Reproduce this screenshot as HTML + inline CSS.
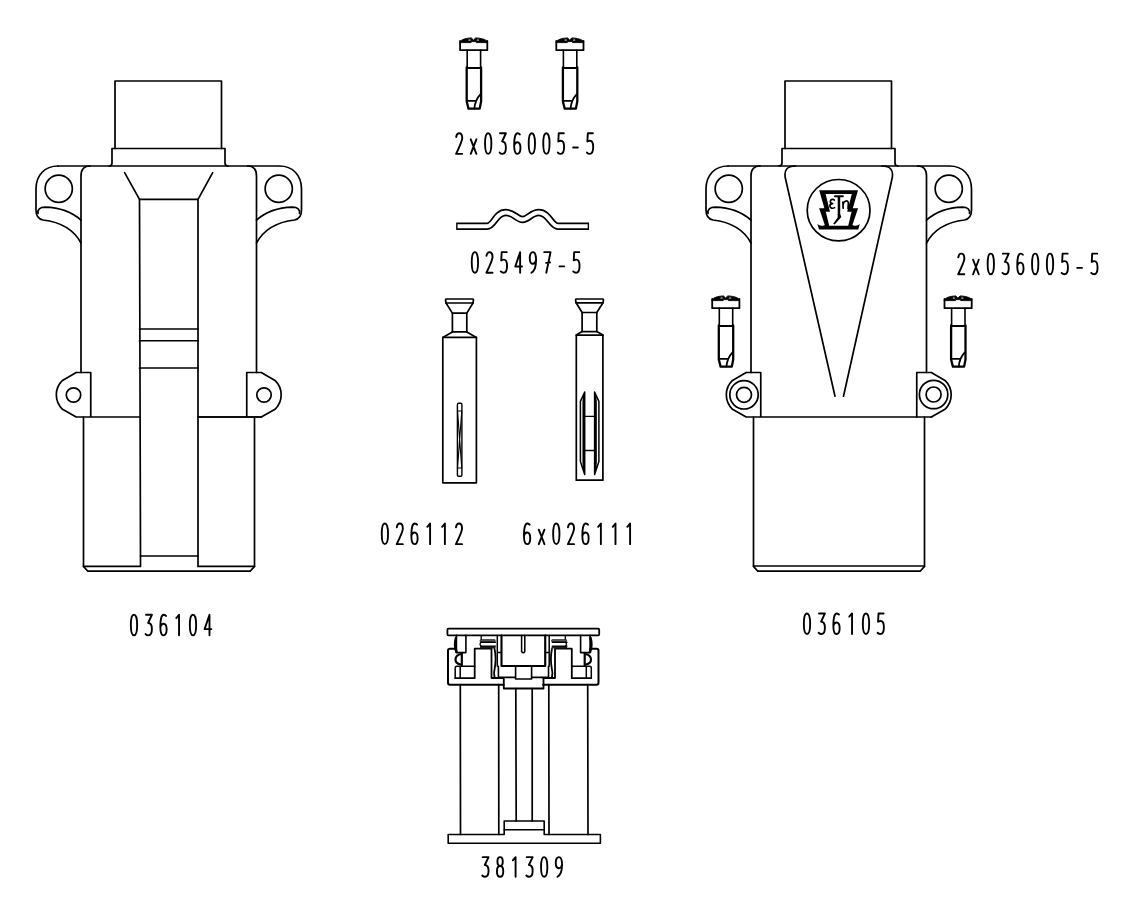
<!DOCTYPE html>
<html><head><meta charset="utf-8"><title>Connector parts</title>
<style>
html,body{margin:0;padding:0;background:#fff;width:1134px;height:916px;overflow:hidden;font-family:"Liberation Sans",sans-serif;}
svg{display:block;}

</style></head><body>
<svg width="1134" height="916" viewBox="0 0 1134 916">
<g fill="none" stroke="#000" stroke-width="1.7" stroke-linejoin="round" stroke-linecap="round"><g><path d="M115,148.5 L115,81 L221.5,81 L221.5,148.5"/><path d="M109,166 Q112,166 112,163 L112,148.5 L225,148.5 L225,163 Q225,166 228,166"/><path d="M58,166 L278.5,166"/><path d="M58,166 C45,166 36,175 36,189 L36,210 C36,215 38,219 43,220 C60,222 74,230 81,243"/><path d="M38,213.5 C37.2,209.5 40,207.2 45,207.2 C60,207.6 73,213 81,220.2"/><circle cx="58.75" cy="188.75" r="13.6"/><path d="M279.5,166 C292.5,166 301.5,175 301.5,189 L301.5,210 C301.5,215 299.5,219 294.5,220 C277.5,222 263.5,230 256.5,243"/><path d="M299.5,213.5 C300.3,209.5 297.5,207.2 292.5,207.2 C277.5,207.6 264.5,213 256.5,220.2"/><circle cx="278.75" cy="188.75" r="13.6"/><path d="M81,372.5 L81,176 Q81,166 90,166"/><path d="M256.5,372.5 L256.5,176 Q256.5,166 247.5,166"/><path d="M76.2,372.5 L90.75,372.5 L90.75,417 M76.2,372.5 L62.5,380.4 A20,20 0 0 0 62.5,409.3 L76.2,417 L139.5,417"/><circle cx="73.5" cy="395" r="7.2"/><path d="M261.3,372.5 L246.75,372.5 L246.75,417 M261.3,372.5 L275.0,380.4 A20,20 0 0 1 275.0,409.3 L261.3,417 L198.0,417"/><circle cx="264.0" cy="395" r="7.2"/><path d="M83.5,417 L83.5,566.4 L87.8,571.2 L250.2,571.2 L254.5,566.4 L254.5,417"/><path d="M83.5,566.4 L140.5,566.4 L140.5,556 L198,556 L198,566.4 L254.5,566.4"/><path d="M124.6,172.7 L139.5,199.3 L198,199.3 L212.7,172.7"/><path d="M139.5,199 L140.5,556 M198,199 L198,556"/><path d="M139.5,329 L198,329 M139.5,340.75 L198,340.75 M139.5,368 L198,368"/><path d="M198,417 L261.5,417"/></g><g><path d="M785,148.5 L785,81 L891.5,81 L891.5,148.5"/><path d="M779,166 Q782,166 782,163 L782,148.5 L895,148.5 L895,163 Q895,166 898,166"/><path d="M728,166 L948.5,166"/><path d="M728,166 C715,166 706,175 706,189 L706,210 C706,215 708,219 713,220 C730,222 744,230 751,243"/><path d="M708,213.5 C707.2,209.5 710,207.2 715,207.2 C730,207.6 743,213 751,220.2"/><circle cx="728.75" cy="188.75" r="13.6"/><path d="M949.5,166 C962.5,166 971.5,175 971.5,189 L971.5,210 C971.5,215 969.5,219 964.5,220 C947.5,222 933.5,230 926.5,243"/><path d="M969.5,213.5 C970.3,209.5 967.5,207.2 962.5,207.2 C947.5,207.6 934.5,213 926.5,220.2"/><circle cx="948.75" cy="188.75" r="13.6"/><path d="M751,372.5 L751,176 Q751,166 760,166"/><path d="M926.5,372.5 L926.5,176 Q926.5,166 917.5,166"/><path d="M746.2,372.5 L760.75,372.5 L760.75,417 M746.2,372.5 L732.5,380.4 A20,20 0 0 0 732.5,409.3 L746.2,417 L931.5,417"/><circle cx="744.0" cy="394.8" r="7.5"/><circle cx="744.0" cy="394.8" r="14.2"/><path d="M931.3,372.5 L916.75,372.5 L916.75,417 M931.3,372.5 L945.0,380.4 A20,20 0 0 1 945.0,409.3 L931.3,417"/><circle cx="933.6" cy="394.5" r="7.5"/><circle cx="933.6" cy="394.5" r="14.2"/><path d="M753.5,417 L753.5,566.4 L757.8,571.2 L920.2,571.2 L924.5,566.4 L924.5,417"/><path d="M753.5,566 L924.5,566"/><path d="M795.6,166 Q782.6,166 785.5,178.7 L835,396.25 M881.9,166 Q894.9,166 892.0,178.7 L843.5,396.25"/></g><g><ellipse cx="838.6" cy="210.2" rx="31.4" ry="30.7" stroke-width="1.7"/><path fill="#000" stroke="none" fill-rule="evenodd" d="M819.20,190.20 L858.00,190.20 852.80,208.30 858.10,208.30 852.40,224.90 Q856.80,227.00 859.80,224.00 L858.20,229.50 819.00,229.50 817.40,224.00 Q820.40,227.00 824.80,224.90 L819.10,208.30 824.40,208.30 Z M825.60,193.90 851.80,193.90 847.20,211.80 851.60,211.80 848.20,225.80 829.20,225.80 825.80,211.80 830.00,211.80 Z"/><path stroke-width="1.7" stroke-linecap="round" d="M834.30,200.00 C833.40,199.00 830.30,199.00 830.30,201.60 C830.30,203.00 831.40,203.60 832.70,203.60 C831.00,203.60 829.90,204.80 829.90,206.00 C829.90,208.20 832.60,208.90 834.60,207.60"/><path stroke-width="2.0" d="M835.00,196.30 L842.90,196.30"/><path stroke-width="2.5" stroke-linecap="butt" d="M838.95,196.30 L838.95,214.70"/><path fill="#000" stroke="none" d="M837.70,214.00 840.20,214.00 841.30,217.00 834.70,224.60 833.20,223.80 837.70,217.40 Z"/><path stroke-width="1.7" stroke-linecap="round" d="M842.90,202.20 L843.10,208.20 M843.10,204.40 C843.80,200.60 848.40,199.40 848.40,203.60 L848.00,208.40"/></g><g><path d="M460.1,41 L460.1,50.2 L487.3,50.2 L487.3,41" stroke-width="1.8"/><path d="M459.90000000000003,41.6 C461.6,39.4 466.1,38.1 471.3,37.9 L473.5,40 L475.70000000000005,37.9 C481.1,38.1 485.8,39.4 487.5,41.6 L487.3,42.6 L476.3,42.6 L476.3,41.6 L471.1,41.6 L471.1,42.6 L460.1,42.6 Z" fill="#000" stroke-width="0.9"/><ellipse cx="469.5" cy="40.0" rx="1.3" ry="0.6" fill="#fff" stroke="none"/><ellipse cx="477.90000000000003" cy="40.0" rx="1.3" ry="0.6" fill="#fff" stroke="none"/><path d="M467.20000000000005,50.2 L467.20000000000005,68 M480.6,50.2 L480.6,68" stroke-width="1.6"/><path d="M466.70000000000005,68 L481.1,68" stroke-width="1.8"/><path d="M466.70000000000005,67.5 L466.70000000000005,101.5 L468.5,108.6 L479.70000000000005,108.6 L481.1,101.5 L481.1,67.5" stroke-width="2.3"/><path d="M467.8,100.8 L475.1,100.8" stroke-width="1.8"/><path d="M480.40000000000003,94.4 Q475.1,100 474.3,108.6" stroke-width="1.8"/></g><g><path d="M556.3,41 L556.3,50.2 L583.5,50.2 L583.5,41" stroke-width="1.8"/><path d="M556.0999999999999,41.6 C557.8,39.4 562.3,38.1 567.5,37.9 L569.6999999999999,40 L571.9,37.9 C577.3,38.1 582.0,39.4 583.7,41.6 L583.5,42.6 L572.5,42.6 L572.5,41.6 L567.3,41.6 L567.3,42.6 L556.3,42.6 Z" fill="#000" stroke-width="0.9"/><ellipse cx="565.6999999999999" cy="40.0" rx="1.3" ry="0.6" fill="#fff" stroke="none"/><ellipse cx="574.0999999999999" cy="40.0" rx="1.3" ry="0.6" fill="#fff" stroke="none"/><path d="M563.4,50.2 L563.4,68 M576.8,50.2 L576.8,68" stroke-width="1.6"/><path d="M562.9,68 L577.3,68" stroke-width="1.8"/><path d="M562.9,67.5 L562.9,101.5 L564.6999999999999,108.6 L575.9,108.6 L577.3,101.5 L577.3,67.5" stroke-width="2.3"/><path d="M564.0,100.8 L571.3,100.8" stroke-width="1.8"/><path d="M576.5999999999999,94.4 Q571.3,100 570.5,108.6" stroke-width="1.8"/></g><g><path d="M712.2,299.0 L712.2,308.2 L739.4000000000001,308.2 L739.4000000000001,299.0" stroke-width="1.8"/><path d="M712.0,299.6 C713.7,297.4 718.2,296.1 723.4000000000001,295.9 L725.6,298.0 L727.8000000000001,295.9 C733.2,296.1 737.9000000000001,297.4 739.6000000000001,299.6 L739.4000000000001,300.6 L728.4000000000001,300.6 L728.4000000000001,299.6 L723.2,299.6 L723.2,300.6 L712.2,300.6 Z" fill="#000" stroke-width="0.9"/><ellipse cx="721.6" cy="298.0" rx="1.3" ry="0.6" fill="#fff" stroke="none"/><ellipse cx="730.0" cy="298.0" rx="1.3" ry="0.6" fill="#fff" stroke="none"/><path d="M719.3000000000001,308.2 L719.3000000000001,326.0 M732.7,308.2 L732.7,326.0" stroke-width="1.6"/><path d="M718.8000000000001,326.0 L733.2,326.0" stroke-width="1.8"/><path d="M718.8000000000001,325.5 L718.8000000000001,359.5 L720.6,366.6 L731.8000000000001,366.6 L733.2,359.5 L733.2,325.5" stroke-width="2.3"/><path d="M719.9000000000001,358.8 L727.2,358.8" stroke-width="1.8"/><path d="M732.5,352.4 Q727.2,358.0 726.4000000000001,366.6" stroke-width="1.8"/></g><g><path d="M944.5,299.0 L944.5,308.2 L971.7,308.2 L971.7,299.0" stroke-width="1.8"/><path d="M944.3,299.6 C946.0,297.4 950.5,296.1 955.7,295.9 L957.9,298.0 L960.1,295.9 C965.5,296.1 970.2,297.4 971.9000000000001,299.6 L971.7,300.6 L960.7,300.6 L960.7,299.6 L955.5,299.6 L955.5,300.6 L944.5,300.6 Z" fill="#000" stroke-width="0.9"/><ellipse cx="953.9" cy="298.0" rx="1.3" ry="0.6" fill="#fff" stroke="none"/><ellipse cx="962.3" cy="298.0" rx="1.3" ry="0.6" fill="#fff" stroke="none"/><path d="M951.6,308.2 L951.6,326.0 M965.0,308.2 L965.0,326.0" stroke-width="1.6"/><path d="M951.1,326.0 L965.5,326.0" stroke-width="1.8"/><path d="M951.1,325.5 L951.1,359.5 L952.9,366.6 L964.1,366.6 L965.5,359.5 L965.5,325.5" stroke-width="2.3"/><path d="M952.2,358.8 L959.5,358.8" stroke-width="1.8"/><path d="M964.8,352.4 Q959.5,358.0 958.7,366.6" stroke-width="1.8"/></g><path d="M459.85,226.25 L487,226.25 C494,226.25 495.5,212.5 505.7,212.5 C514,212.5 517,219.5 522.6,219.5 C528.2,219.5 531.2,212.5 538.8,212.5 C549,212.5 551,226.25 558,226.25 L585.35,226.25" stroke-width="7.4" stroke-linecap="square" stroke-linejoin="round"/><path d="M457.55,226.25 L487,226.25 C494,226.25 495.5,212.5 505.7,212.5 C514,212.5 517,219.5 522.6,219.5 C528.2,219.5 531.2,212.5 538.8,212.5 C549,212.5 551,226.25 558,226.25 L587.65,226.25" stroke="#fff" stroke-width="4.0" stroke-linecap="butt"/><g><path d="M446.2,299 L472.7,299 Q473.6,299 473.4,300.4 L473.0,303 L466.8,313.1 L466.8,331.9 L476.4,337.4 L476.4,482.8 L442.8,482.8 L442.8,337.4 L452.4,331.9 L452.4,313.1 L446.0,303 L445.6,300.4 Q445.4,299 446.2,299 Z"/><path d="M446,303 L473,303 M452.4,313.1 L466.8,313.1 M452.4,331.9 L466.8,331.9 M442.8,337.4 L476.4,337.4"/><path d="M458.6,403.3 L460.8,403.3 Q461.9,403.3 461.9,404.6 L461.9,475 Q461.9,476.3 460.8,476.3 L458.6,476.3 Q457.4,476.3 457.4,475 L457.4,404.6 Q457.4,403.3 458.6,403.3 Z" stroke-width="1.4"/><path d="M457.6,412 L461.7,467 M461.7,412 L457.6,467 M457.4,411 L461.9,411 M457.4,468 L461.9,468" stroke-width="1.1"/></g><g><path d="M576.2,299 L602.7,299 Q603.6,299 603.4,300.4 L603.0,302.8 L596.8,312.5 L596.8,331.6 L602.9,335.1 L602.9,480.2 L576.3,480.2 L576.3,335.1 L582.1,331.6 L582.1,312.5 L576.1,302.8 L575.7,300.4 Q575.5,299 576.2,299 Z"/><path d="M576,302.8 L603,302.8 M582.1,312.5 L596.8,312.5 M582.1,331.6 L596.8,331.6 M576.3,335.1 L602.9,335.1"/><path d="M584.7,392.1 L580.4,401.4 L580.4,461.4 L584.7,474.5 Z M584.7,392.1 L583.2,401 L583.2,463 L584.7,474.5" stroke-width="1.5"/><path d="M594.6,392.1 L598.9,401.4 L598.9,461.4 L594.6,474.5 Z M594.6,392.1 L596.1,401 L596.1,463 L594.6,474.5" stroke-width="1.5"/><path d="M584.7,416.4 L594.6,416.4 M584.7,450.5 L594.6,450.5" stroke-width="1.4"/></g><g><rect x="447.4" y="628.6" width="151.8" height="6.8" rx="1.2" stroke-width="1.8"/><path d="M448,650.5 Q448,648.7 450,648.7 L456,648.7 M448,650.5 L448,682.7 Q448,684.7 450,684.7 L503.6,684.7 M543.2,684.7 L596.5,684.7 Q598.5,684.7 598.5,682.7 L598.5,650.5 Q598.5,648.7 596.5,648.7 L590.5,648.7" stroke-width="2"/><path d="M455.2,678.2 L474.7,678.2 L474.7,648.7 L491.5,648.7 L491.5,678 L503.6,678 M543.2,678 L555,678 L555,648.7 L571.8,648.7 L571.8,678.2 L591.3,678.2" stroke-width="1.8"/><path d="M456.4,635.4 L456.4,652.6 L465.9,652.6 L465.9,635.4" stroke-width="1.6"/><path d="M456,638 Q454,645 456.5,652" stroke-width="2.6"/><path d="M590.1,635.4 L590.1,652.6 L580.6,652.6 L580.6,635.4" stroke-width="1.6"/><path d="M590.5,638 Q592.5,645 590.0,652" stroke-width="2.6"/><path d="M461.5,654 Q455.5,655 455.5,659.5 Q455.5,663.5 460.5,664.5 M461.8,653 L461.8,665.5" stroke-width="2.2"/><path d="M585.0,654 Q591.0,655 591.0,659.5 Q591.0,663.5 586.0,664.5 M584.7,653 L584.7,665.5" stroke-width="2.2"/><path d="M455.2,678.2 L455.2,668 Q455.2,666.3 457,666.3 L474.7,666.3 M460.2,666.3 L460.2,678.2" stroke-width="1.5"/><path d="M591.3,678.2 L591.3,668 Q591.3,666.3 589.5,666.3 L571.8,666.3 M586.3,666.3 L586.3,678.2" stroke-width="1.5"/><rect x="479.7" y="639.2" width="15.900000000000045" height="3.2" rx="1.4" fill="#1a1a1a" stroke="none"/><rect x="480.0" y="646.0" width="15.600000000000046" height="2.4" rx="1.0" fill="#1a1a1a" stroke="none"/><rect x="479.79999999999995" y="640.4" width="15.400000000000045" height="0.9" fill="#777" stroke="none"/><path d="M480.9,642.4 L495.6,642.4 M480.9,646.0 L495.6,646.0" stroke-width="1.2"/><path d="M481.0,642.4 Q479.09999999999997,644.2 481.0,646.0 M481.2,636.2 L481.2,639.2" stroke-width="1.3"/><rect x="551.1999999999999" y="639.2" width="15.900000000000045" height="3.2" rx="1.4" fill="#1a1a1a" stroke="none"/><rect x="551.5" y="646.0" width="15.600000000000046" height="2.4" rx="1.0" fill="#1a1a1a" stroke="none"/><rect x="551.3" y="640.4" width="15.400000000000045" height="0.9" fill="#777" stroke="none"/><path d="M552.4,642.4 L567.1,642.4 M552.4,646.0 L567.1,646.0" stroke-width="1.2"/><path d="M565.5,642.4 Q567.4,644.2 565.5,646.0 M565.3000000000001,636.2 L565.3000000000001,639.2" stroke-width="1.3"/><path d="M497.3,635.4 L497.3,666.3 M501.5,635.4 L501.5,666.3 M497.3,652.6 L501.5,652.6" stroke-width="1.5"/><path d="M549.2,635.4 L549.2,666.3 M545.0,635.4 L545.0,666.3 M549.2,652.6 L545.0,652.6" stroke-width="1.5"/><path d="M494.6,649 Q496.6,659 494.6,669 Q493.6,672 494.6,677.5" stroke-width="1.8"/><path d="M551.9,649 Q549.9,659 551.9,669 Q552.9,672 551.9,677.5" stroke-width="1.8"/><path d="M501.5,666 L545.4,666 M501.5,635.4 L501.5,666 M545.4,635.4 L545.4,666" stroke-width="1.8"/><path d="M521.6,635.6 L521.6,651.5 Q523.2,654 524.8,651.5 L524.8,635.6" stroke-width="1.5"/><path d="M498.4,666.3 L498.4,677.4 L515.6,677.4 L515.6,666.3 M515.6,666.3 L515.6,679 L531.6,679 L531.6,666.3 M531.6,677.4 L548.5,677.4 L548.5,666.3" stroke-width="1.6"/><path d="M503.8,679 L503.8,688.5 L543.5,688.5 L543.5,679" stroke-width="1.8"/><path d="M460.3,684.7 L460.5,834.5 M498.7,684.7 L498.8,834.5 M548.8,684.7 L549,834.5 M587.7,684.7 L588,834.5 M515.8,688.5 L516.2,821 M532.2,688.5 L532.2,821"/><path d="M448.2,834.5 L504.2,834.5 L504.2,829.7 L544.2,829.7 L544.2,834.5 L600.4,834.5 L600.4,843.2 L448.2,843.2 Z" stroke-width="1.6"/><path d="M504.2,829.7 L504.2,821 L544.2,821 L544.2,829.7" stroke-width="1.6"/></g><g stroke-linecap="round"><path transform="translate(130.85,614.75) scale(0.7875,0.9364)" d="M4,0 C1.2,0 0,4.5 0,11 C0,17.5 1.2,22 4,22 C6.8,22 8,17.5 8,11 C8,4.5 6.8,0 4,0 Z" vector-effect="non-scaling-stroke" stroke-width="1.9"/><path transform="translate(145.60,614.75) scale(0.7875,0.9364)" d="M0.5,0 L8,0 L3.2,8.8 C6.3,8.8 8,11 8,15.2 C8,19.6 6.3,22 3.6,22 C2.2,22 1,21.5 0,20.6" vector-effect="non-scaling-stroke" stroke-width="1.9"/><path transform="translate(160.35,614.75) scale(0.7875,0.9364)" d="M7.2,1.2 C6.5,0.4 5.4,0 4.3,0 C1.3,0 0,5 0,12.5 C0,18.8 1.5,22 4,22 C6.6,22 8,19.2 8,15.6 C8,12 6.6,9.6 4,9.6 C2,9.6 0.6,11 0,13.2" vector-effect="non-scaling-stroke" stroke-width="1.9"/><path transform="translate(175.10,614.75) scale(0.7875,0.9364)" d="M1.5,3.5 L5,0 L5,22" vector-effect="non-scaling-stroke" stroke-width="1.9"/><path transform="translate(189.85,614.75) scale(0.7875,0.9364)" d="M4,0 C1.2,0 0,4.5 0,11 C0,17.5 1.2,22 4,22 C6.8,22 8,17.5 8,11 C8,4.5 6.8,0 4,0 Z" vector-effect="non-scaling-stroke" stroke-width="1.9"/><path transform="translate(204.60,614.75) scale(0.7875,0.9364)" d="M6.2,22 L6.2,0 L0,15.3 L8.6,15.3" vector-effect="non-scaling-stroke" stroke-width="1.9"/></g><g stroke-linecap="round"><path transform="translate(455.95,133.25) scale(0.7875,0.9364)" d="M0.3,4 C0.8,1.3 2.2,0 4,0 C6.4,0 8,2 8,5.2 C8,8.5 6,12 0.2,22 L8,22" vector-effect="non-scaling-stroke" stroke-width="1.9"/><path transform="translate(470.50,133.25) scale(0.7875,0.9364)" d="M0.3,6.5 L7.5,22 M7.5,6.5 L0.3,22" vector-effect="non-scaling-stroke" stroke-width="1.9"/><path transform="translate(485.05,133.25) scale(0.7875,0.9364)" d="M4,0 C1.2,0 0,4.5 0,11 C0,17.5 1.2,22 4,22 C6.8,22 8,17.5 8,11 C8,4.5 6.8,0 4,0 Z" vector-effect="non-scaling-stroke" stroke-width="1.9"/><path transform="translate(499.60,133.25) scale(0.7875,0.9364)" d="M0.5,0 L8,0 L3.2,8.8 C6.3,8.8 8,11 8,15.2 C8,19.6 6.3,22 3.6,22 C2.2,22 1,21.5 0,20.6" vector-effect="non-scaling-stroke" stroke-width="1.9"/><path transform="translate(514.15,133.25) scale(0.7875,0.9364)" d="M7.2,1.2 C6.5,0.4 5.4,0 4.3,0 C1.3,0 0,5 0,12.5 C0,18.8 1.5,22 4,22 C6.6,22 8,19.2 8,15.6 C8,12 6.6,9.6 4,9.6 C2,9.6 0.6,11 0,13.2" vector-effect="non-scaling-stroke" stroke-width="1.9"/><path transform="translate(528.70,133.25) scale(0.7875,0.9364)" d="M4,0 C1.2,0 0,4.5 0,11 C0,17.5 1.2,22 4,22 C6.8,22 8,17.5 8,11 C8,4.5 6.8,0 4,0 Z" vector-effect="non-scaling-stroke" stroke-width="1.9"/><path transform="translate(543.25,133.25) scale(0.7875,0.9364)" d="M4,0 C1.2,0 0,4.5 0,11 C0,17.5 1.2,22 4,22 C6.8,22 8,17.5 8,11 C8,4.5 6.8,0 4,0 Z" vector-effect="non-scaling-stroke" stroke-width="1.9"/><path transform="translate(557.80,133.25) scale(0.7875,0.9364)" d="M7.6,0 L1.2,0 L0.6,8.8 C1.6,8.3 2.7,8 3.8,8 C6.6,8 8,10.6 8,14.8 C8,19.4 6.3,22 3.6,22 C2.2,22 1,21.5 0,20.6" vector-effect="non-scaling-stroke" stroke-width="1.9"/><path transform="translate(572.35,133.25) scale(0.7875,0.9364)" d="M1,15.2 L7,15.2" vector-effect="non-scaling-stroke" stroke-width="1.9"/><path transform="translate(586.90,133.25) scale(0.7875,0.9364)" d="M7.6,0 L1.2,0 L0.6,8.8 C1.6,8.3 2.7,8 3.8,8 C6.6,8 8,10.6 8,14.8 C8,19.4 6.3,22 3.6,22 C2.2,22 1,21.5 0,20.6" vector-effect="non-scaling-stroke" stroke-width="1.9"/></g><g stroke-linecap="round"><path transform="translate(471.75,252.15) scale(0.7875,0.9364)" d="M4,0 C1.2,0 0,4.5 0,11 C0,17.5 1.2,22 4,22 C6.8,22 8,17.5 8,11 C8,4.5 6.8,0 4,0 Z" vector-effect="non-scaling-stroke" stroke-width="1.9"/><path transform="translate(486.25,252.15) scale(0.7875,0.9364)" d="M0.3,4 C0.8,1.3 2.2,0 4,0 C6.4,0 8,2 8,5.2 C8,8.5 6,12 0.2,22 L8,22" vector-effect="non-scaling-stroke" stroke-width="1.9"/><path transform="translate(500.75,252.15) scale(0.7875,0.9364)" d="M7.6,0 L1.2,0 L0.6,8.8 C1.6,8.3 2.7,8 3.8,8 C6.6,8 8,10.6 8,14.8 C8,19.4 6.3,22 3.6,22 C2.2,22 1,21.5 0,20.6" vector-effect="non-scaling-stroke" stroke-width="1.9"/><path transform="translate(515.25,252.15) scale(0.7875,0.9364)" d="M6.2,22 L6.2,0 L0,15.3 L8.6,15.3" vector-effect="non-scaling-stroke" stroke-width="1.9"/><path transform="translate(529.75,252.15) scale(0.7875,0.9364)" d="M8,8.4 C7.4,11 6,12.4 4,12.4 C1.4,12.4 0,9.8 0,6.4 C0,2.6 1.4,0 4,0 C6.6,0 8,3 8,8.5 C8,15 6.5,20 2.2,22" vector-effect="non-scaling-stroke" stroke-width="1.9"/><path transform="translate(544.25,252.15) scale(0.7875,0.9364)" d="M0,0 L8,0 L2.6,22 M2.4,11.5 L7.4,11" vector-effect="non-scaling-stroke" stroke-width="1.9"/><path transform="translate(558.75,252.15) scale(0.7875,0.9364)" d="M1,15.2 L7,15.2" vector-effect="non-scaling-stroke" stroke-width="1.9"/><path transform="translate(573.25,252.15) scale(0.7875,0.9364)" d="M7.6,0 L1.2,0 L0.6,8.8 C1.6,8.3 2.7,8 3.8,8 C6.6,8 8,10.6 8,14.8 C8,19.4 6.3,22 3.6,22 C2.2,22 1,21.5 0,20.6" vector-effect="non-scaling-stroke" stroke-width="1.9"/></g><g stroke-linecap="round"><path transform="translate(381.75,523.55) scale(0.7875,0.9364)" d="M4,0 C1.2,0 0,4.5 0,11 C0,17.5 1.2,22 4,22 C6.8,22 8,17.5 8,11 C8,4.5 6.8,0 4,0 Z" vector-effect="non-scaling-stroke" stroke-width="1.9"/><path transform="translate(396.55,523.55) scale(0.7875,0.9364)" d="M0.3,4 C0.8,1.3 2.2,0 4,0 C6.4,0 8,2 8,5.2 C8,8.5 6,12 0.2,22 L8,22" vector-effect="non-scaling-stroke" stroke-width="1.9"/><path transform="translate(411.35,523.55) scale(0.7875,0.9364)" d="M7.2,1.2 C6.5,0.4 5.4,0 4.3,0 C1.3,0 0,5 0,12.5 C0,18.8 1.5,22 4,22 C6.6,22 8,19.2 8,15.6 C8,12 6.6,9.6 4,9.6 C2,9.6 0.6,11 0,13.2" vector-effect="non-scaling-stroke" stroke-width="1.9"/><path transform="translate(426.15,523.55) scale(0.7875,0.9364)" d="M1.5,3.5 L5,0 L5,22" vector-effect="non-scaling-stroke" stroke-width="1.9"/><path transform="translate(440.95,523.55) scale(0.7875,0.9364)" d="M1.5,3.5 L5,0 L5,22" vector-effect="non-scaling-stroke" stroke-width="1.9"/><path transform="translate(455.75,523.55) scale(0.7875,0.9364)" d="M0.3,4 C0.8,1.3 2.2,0 4,0 C6.4,0 8,2 8,5.2 C8,8.5 6,12 0.2,22 L8,22" vector-effect="non-scaling-stroke" stroke-width="1.9"/></g><g stroke-linecap="round"><path transform="translate(523.95,523.55) scale(0.7875,0.9364)" d="M7.2,1.2 C6.5,0.4 5.4,0 4.3,0 C1.3,0 0,5 0,12.5 C0,18.8 1.5,22 4,22 C6.6,22 8,19.2 8,15.6 C8,12 6.6,9.6 4,9.6 C2,9.6 0.6,11 0,13.2" vector-effect="non-scaling-stroke" stroke-width="1.9"/><path transform="translate(538.55,523.55) scale(0.7875,0.9364)" d="M0.3,6.5 L7.5,22 M7.5,6.5 L0.3,22" vector-effect="non-scaling-stroke" stroke-width="1.9"/><path transform="translate(553.15,523.55) scale(0.7875,0.9364)" d="M4,0 C1.2,0 0,4.5 0,11 C0,17.5 1.2,22 4,22 C6.8,22 8,17.5 8,11 C8,4.5 6.8,0 4,0 Z" vector-effect="non-scaling-stroke" stroke-width="1.9"/><path transform="translate(567.75,523.55) scale(0.7875,0.9364)" d="M0.3,4 C0.8,1.3 2.2,0 4,0 C6.4,0 8,2 8,5.2 C8,8.5 6,12 0.2,22 L8,22" vector-effect="non-scaling-stroke" stroke-width="1.9"/><path transform="translate(582.35,523.55) scale(0.7875,0.9364)" d="M7.2,1.2 C6.5,0.4 5.4,0 4.3,0 C1.3,0 0,5 0,12.5 C0,18.8 1.5,22 4,22 C6.6,22 8,19.2 8,15.6 C8,12 6.6,9.6 4,9.6 C2,9.6 0.6,11 0,13.2" vector-effect="non-scaling-stroke" stroke-width="1.9"/><path transform="translate(596.95,523.55) scale(0.7875,0.9364)" d="M1.5,3.5 L5,0 L5,22" vector-effect="non-scaling-stroke" stroke-width="1.9"/><path transform="translate(611.55,523.55) scale(0.7875,0.9364)" d="M1.5,3.5 L5,0 L5,22" vector-effect="non-scaling-stroke" stroke-width="1.9"/><path transform="translate(626.15,523.55) scale(0.7875,0.9364)" d="M1.5,3.5 L5,0 L5,22" vector-effect="non-scaling-stroke" stroke-width="1.9"/></g><g stroke-linecap="round"><path transform="translate(803.85,613.45) scale(0.7875,0.9364)" d="M4,0 C1.2,0 0,4.5 0,11 C0,17.5 1.2,22 4,22 C6.8,22 8,17.5 8,11 C8,4.5 6.8,0 4,0 Z" vector-effect="non-scaling-stroke" stroke-width="1.9"/><path transform="translate(818.60,613.45) scale(0.7875,0.9364)" d="M0.5,0 L8,0 L3.2,8.8 C6.3,8.8 8,11 8,15.2 C8,19.6 6.3,22 3.6,22 C2.2,22 1,21.5 0,20.6" vector-effect="non-scaling-stroke" stroke-width="1.9"/><path transform="translate(833.35,613.45) scale(0.7875,0.9364)" d="M7.2,1.2 C6.5,0.4 5.4,0 4.3,0 C1.3,0 0,5 0,12.5 C0,18.8 1.5,22 4,22 C6.6,22 8,19.2 8,15.6 C8,12 6.6,9.6 4,9.6 C2,9.6 0.6,11 0,13.2" vector-effect="non-scaling-stroke" stroke-width="1.9"/><path transform="translate(848.10,613.45) scale(0.7875,0.9364)" d="M1.5,3.5 L5,0 L5,22" vector-effect="non-scaling-stroke" stroke-width="1.9"/><path transform="translate(862.85,613.45) scale(0.7875,0.9364)" d="M4,0 C1.2,0 0,4.5 0,11 C0,17.5 1.2,22 4,22 C6.8,22 8,17.5 8,11 C8,4.5 6.8,0 4,0 Z" vector-effect="non-scaling-stroke" stroke-width="1.9"/><path transform="translate(877.60,613.45) scale(0.7875,0.9364)" d="M7.6,0 L1.2,0 L0.6,8.8 C1.6,8.3 2.7,8 3.8,8 C6.6,8 8,10.6 8,14.8 C8,19.4 6.3,22 3.6,22 C2.2,22 1,21.5 0,20.6" vector-effect="non-scaling-stroke" stroke-width="1.9"/></g><g stroke-linecap="round"><path transform="translate(958.05,253.65) scale(0.7875,0.9364)" d="M0.3,4 C0.8,1.3 2.2,0 4,0 C6.4,0 8,2 8,5.2 C8,8.5 6,12 0.2,22 L8,22" vector-effect="non-scaling-stroke" stroke-width="1.9"/><path transform="translate(972.85,253.65) scale(0.7875,0.9364)" d="M0.3,6.5 L7.5,22 M7.5,6.5 L0.3,22" vector-effect="non-scaling-stroke" stroke-width="1.9"/><path transform="translate(987.65,253.65) scale(0.7875,0.9364)" d="M4,0 C1.2,0 0,4.5 0,11 C0,17.5 1.2,22 4,22 C6.8,22 8,17.5 8,11 C8,4.5 6.8,0 4,0 Z" vector-effect="non-scaling-stroke" stroke-width="1.9"/><path transform="translate(1002.45,253.65) scale(0.7875,0.9364)" d="M0.5,0 L8,0 L3.2,8.8 C6.3,8.8 8,11 8,15.2 C8,19.6 6.3,22 3.6,22 C2.2,22 1,21.5 0,20.6" vector-effect="non-scaling-stroke" stroke-width="1.9"/><path transform="translate(1017.25,253.65) scale(0.7875,0.9364)" d="M7.2,1.2 C6.5,0.4 5.4,0 4.3,0 C1.3,0 0,5 0,12.5 C0,18.8 1.5,22 4,22 C6.6,22 8,19.2 8,15.6 C8,12 6.6,9.6 4,9.6 C2,9.6 0.6,11 0,13.2" vector-effect="non-scaling-stroke" stroke-width="1.9"/><path transform="translate(1032.05,253.65) scale(0.7875,0.9364)" d="M4,0 C1.2,0 0,4.5 0,11 C0,17.5 1.2,22 4,22 C6.8,22 8,17.5 8,11 C8,4.5 6.8,0 4,0 Z" vector-effect="non-scaling-stroke" stroke-width="1.9"/><path transform="translate(1046.85,253.65) scale(0.7875,0.9364)" d="M4,0 C1.2,0 0,4.5 0,11 C0,17.5 1.2,22 4,22 C6.8,22 8,17.5 8,11 C8,4.5 6.8,0 4,0 Z" vector-effect="non-scaling-stroke" stroke-width="1.9"/><path transform="translate(1061.65,253.65) scale(0.7875,0.9364)" d="M7.6,0 L1.2,0 L0.6,8.8 C1.6,8.3 2.7,8 3.8,8 C6.6,8 8,10.6 8,14.8 C8,19.4 6.3,22 3.6,22 C2.2,22 1,21.5 0,20.6" vector-effect="non-scaling-stroke" stroke-width="1.9"/><path transform="translate(1076.45,253.65) scale(0.7875,0.9364)" d="M1,15.2 L7,15.2" vector-effect="non-scaling-stroke" stroke-width="1.9"/><path transform="translate(1091.25,253.65) scale(0.7875,0.9364)" d="M7.6,0 L1.2,0 L0.6,8.8 C1.6,8.3 2.7,8 3.8,8 C6.6,8 8,10.6 8,14.8 C8,19.4 6.3,22 3.6,22 C2.2,22 1,21.5 0,20.6" vector-effect="non-scaling-stroke" stroke-width="1.9"/></g><g stroke-linecap="round"><path transform="translate(482.25,857.15) scale(0.7875,0.8909)" d="M0.5,0 L8,0 L3.2,8.8 C6.3,8.8 8,11 8,15.2 C8,19.6 6.3,22 3.6,22 C2.2,22 1,21.5 0,20.6" vector-effect="non-scaling-stroke" stroke-width="1.9"/><path transform="translate(496.95,857.15) scale(0.7875,0.8909)" d="M4,10 C1.8,10 0.6,8 0.6,5 C0.6,2 1.8,0 4,0 C6.2,0 7.4,2 7.4,5 C7.4,8 6.2,10 4,10 C1.5,10 0,12.3 0,16 C0,19.8 1.5,22 4,22 C6.5,22 8,19.8 8,16 C8,12.3 6.5,10 4,10 Z" vector-effect="non-scaling-stroke" stroke-width="1.9"/><path transform="translate(511.65,857.15) scale(0.7875,0.8909)" d="M1.5,3.5 L5,0 L5,22" vector-effect="non-scaling-stroke" stroke-width="1.9"/><path transform="translate(526.35,857.15) scale(0.7875,0.8909)" d="M0.5,0 L8,0 L3.2,8.8 C6.3,8.8 8,11 8,15.2 C8,19.6 6.3,22 3.6,22 C2.2,22 1,21.5 0,20.6" vector-effect="non-scaling-stroke" stroke-width="1.9"/><path transform="translate(541.05,857.15) scale(0.7875,0.8909)" d="M4,0 C1.2,0 0,4.5 0,11 C0,17.5 1.2,22 4,22 C6.8,22 8,17.5 8,11 C8,4.5 6.8,0 4,0 Z" vector-effect="non-scaling-stroke" stroke-width="1.9"/><path transform="translate(555.75,857.15) scale(0.7875,0.8909)" d="M8,8.4 C7.4,11 6,12.4 4,12.4 C1.4,12.4 0,9.8 0,6.4 C0,2.6 1.4,0 4,0 C6.6,0 8,3 8,8.5 C8,15 6.5,20 2.2,22" vector-effect="non-scaling-stroke" stroke-width="1.9"/></g></g>
</svg>
</body></html>
